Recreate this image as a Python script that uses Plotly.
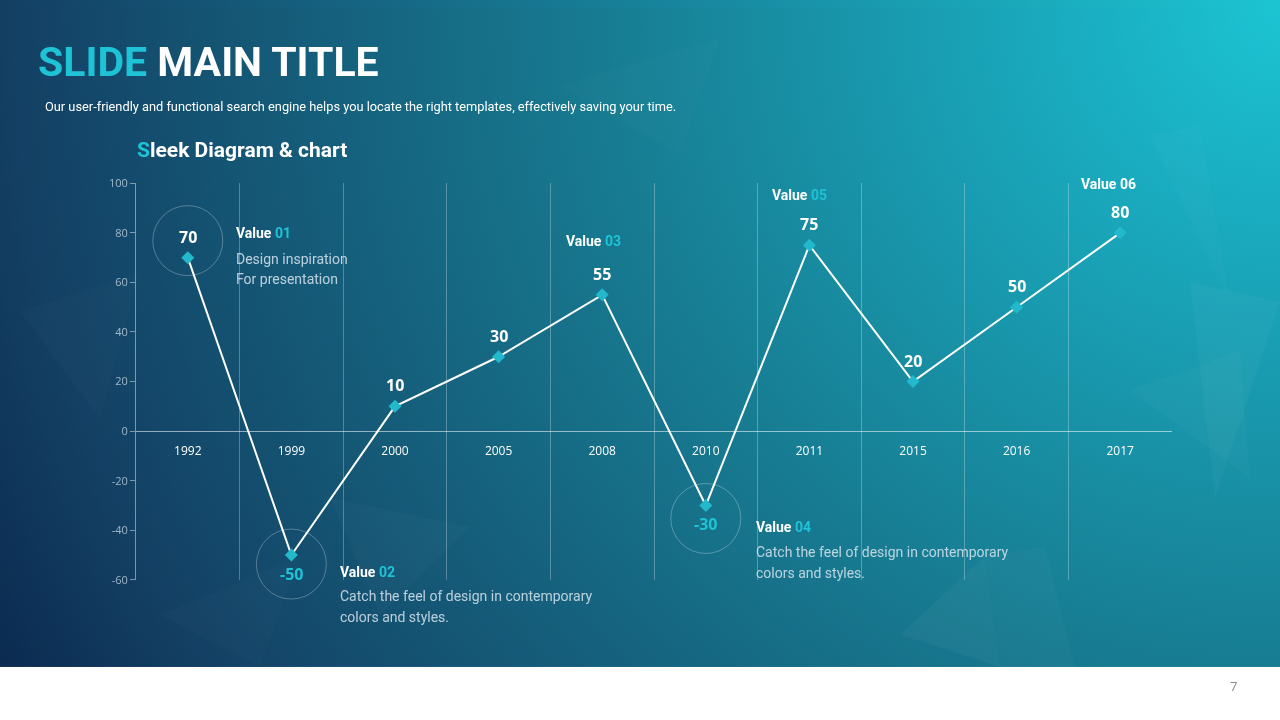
import base64
import plotly.graph_objects as go

YEARS = ['1992', '1999', '2000', '2005', '2008', '2010', '2011', '2015', '2016', '2017']
VALUES = [70, -50, 10, 30, 55, -30, 75, 20, 50, 80]
Y_TICKS = [100, 80, 60, 40, 20, 0, -20, -40, -60]

W, H = 1280, 720
CYAN = '#1fc3d6'
HEAD = 'Roboto, Lato, sans-serif'
X_DOM = [136 / W, 1172 / W]
Y_DOM = [1 - 584 / H, 1 - 179 / H]
X_RANGE = [-0.5, 9.5]
Y_RANGE = [-60, 100]


def px(x, y):
    # pixel position on the slide -> paper coords
    return x / W, 1 - y / H


def to_paper(i, v):
    xp = X_DOM[0] + (i - X_RANGE[0]) / (X_RANGE[1] - X_RANGE[0]) * (X_DOM[1] - X_DOM[0])
    yp = Y_DOM[0] + (v - Y_RANGE[0]) / (Y_RANGE[1] - Y_RANGE[0]) * (Y_DOM[1] - Y_DOM[0])
    return xp, yp


# slide background: radial glow from the top-right corner, faint facets, white footer
svg = f'''<svg xmlns="http://www.w3.org/2000/svg" width="{W}" height="{H}" viewBox="0 0 {W} {H}" preserveAspectRatio="none">
<defs><radialGradient id="g" gradientUnits="userSpaceOnUse" cx="{W}" cy="0" r="1450">
<stop offset="0" stop-color="#1cc4d2"/><stop offset="0.12" stop-color="#1ab0c4"/>
<stop offset="0.48" stop-color="#177a90"/><stop offset="0.88" stop-color="#133f63"/>
<stop offset="1" stop-color="#0b2a50"/></radialGradient></defs>
<rect x="0" y="0" width="{W}" height="673" fill="url(#g)"/>
<g fill="#ffffff">
<polygon points="1190,280 1280,300 1215,500" fill-opacity="0.03"/>
<polygon points="1130,390 1240,350 1250,480" fill-opacity="0.025"/>
<polygon points="1150,130 1200,120 1230,300" fill-opacity="0.02"/>
<polygon points="900,640 985,560 1000,673" fill-opacity="0.035"/>
<polygon points="985,560 1045,550 1075,673 1000,673" fill-opacity="0.025"/>
<polygon points="20,310 140,270 100,420" fill-opacity="0.015"/>
<polygon points="560,80 720,30 680,150" fill-opacity="0.015"/>
<polygon points="330,500 470,530 380,620" fill-opacity="0.02"/>
<polygon points="160,620 300,560 260,673" fill-opacity="0.015"/>
</g>
<rect x="0" y="673" width="{W}" height="47" fill="#ffffff"/>
</svg>'''
bg = 'data:image/svg+xml;base64,' + base64.b64encode(svg.encode()).decode()

x_idx = list(range(len(YEARS)))

fig = go.Figure()
fig.add_trace(go.Scatter(
    x=x_idx, y=VALUES,
    mode='lines+markers',
    line=dict(color='#ffffff', width=2),
    marker=dict(symbol='diamond', size=10, color='#22b9cc'),
    hoverinfo='skip',
    showlegend=False,
))

fig.update_layout(
    width=W, height=H,
    margin=dict(l=0, r=0, t=0, b=0),
    paper_bgcolor='rgba(0,0,0,0)',
    plot_bgcolor='rgba(0,0,0,0)',
    images=[dict(source=bg, xref='paper', yref='paper', x=0, y=1, sizex=1, sizey=1,
                 sizing='stretch', xanchor='left', yanchor='top', layer='below')],
    xaxis=dict(
        domain=X_DOM,
        range=[X_RANGE[0], X_RANGE[1] - 0.0001],
        anchor='free', position=to_paper(0, 0)[1],
        tickmode='array', tickvals=x_idx, ticktext=YEARS,
        tickfont=dict(family='Open Sans, sans-serif', size=12, color='#ffffff'),
        ticks='', ticklabelstandoff=8,
        showgrid=False, zeroline=False,
        showline=True, linecolor='rgba(255,255,255,0.55)', linewidth=1,
        minor=dict(tick0=0.5, dtick=1, showgrid=True, gridcolor='rgba(255,255,255,0.28)',
                   gridwidth=1, ticks=''),
    ),
    yaxis=dict(
        domain=Y_DOM,
        range=Y_RANGE,
        tickmode='array', tickvals=Y_TICKS, ticktext=[str(t) for t in Y_TICKS],
        tickfont=dict(family='Open Sans, sans-serif', size=11, color='rgba(205,220,232,0.75)'),
        ticks='outside', ticklen=5, tickcolor='rgba(255,255,255,0.45)',
        showgrid=False, zeroline=False,
        showline=True, linecolor='rgba(255,255,255,0.45)', linewidth=1,
    ),
)

# thin rings around the highlighted points (pixel sized, anchored on the point)
for i, dy in [(0, 17), (1, -9), (5, -13)]:
    cx, cy = to_paper(i, VALUES[i])
    fig.add_shape(type='circle', xref='paper', yref='paper', xsizemode='pixel', ysizemode='pixel',
                  xanchor=cx, yanchor=cy, x0=-35, x1=35, y0=dy - 35, y1=dy + 35,
                  line=dict(color='rgba(255,255,255,0.28)', width=1))

ann = []

# value labels above (positive) or below (negative) each point
for i, v in zip(x_idx, VALUES):
    ann.append(dict(x=i, y=v, xref='x', yref='y', text=str(v), showarrow=False,
                    yshift=21 if v >= 0 else -19,
                    font=dict(family='Open Sans, sans-serif', size=16, weight='bold',
                              color='#ffffff' if v >= 0 else CYAN)))


def text(x, y, s, size, color='#ffffff', family=HEAD, align='left', weight='normal'):
    xp, yp = px(x, y)
    ann.append(dict(x=xp, y=yp, xref='paper', yref='paper', text=s, showarrow=False,
                    xanchor=align, yanchor='middle', align=align,
                    font=dict(family=family, size=size, color=color, weight=weight)))


text(36, 55, f"<span style='color:{CYAN}'>SLIDE</span> MAIN TITLE", 41, weight='bold')
text(43, 101, 'Our user-friendly and functional search engine helps you locate the right templates, '
     'effectively saving your time.', 12.8)
text(135, 145, f"<span style='color:{CYAN}'>S</span>leek Diagram &amp; chart", 21, weight='bold')

DESC = 'rgba(215,228,238,0.85)'
lbl = lambda n: f"Value <span style='color:{CYAN}'>{n}</span>"
text(234, 230, lbl('01'), 14, weight='bold')
text(234, 256, 'Design inspiration', 14, color=DESC)
text(234, 277, 'For presentation', 14, color=DESC)
text(338, 576, lbl('02'), 14, weight='bold')
text(338, 601, 'Catch the feel of design in contemporary', 14, color=DESC)
text(338, 622, 'colors and styles.', 14, color=DESC)
text(593, 238, lbl('03'), 14, align='center', weight='bold')
text(754, 530, lbl('04'), 14, weight='bold')
text(754, 556, 'Catch the feel of design in contemporary', 14, color=DESC)
text(754, 577, 'colors and styles.', 14, color=DESC)
text(799, 191, lbl('05'), 14, align='center', weight='bold')
text(1108, 180, 'Value 06', 14, align='center', weight='bold')
text(1233, 692, '7', 13, color='#8a8a8a', family='Open Sans, sans-serif', align='center')

fig.update_layout(annotations=ann)

# page exactly the size of the slide, figure pinned to the top-left corner;
# page background matches the slide (dark top, white footer) in case any edge shows
pin = ("var s='margin:0;padding:0;overflow:hidden;width:1280px;height:720px;"
       "background:linear-gradient(90deg,#133f63,#1cc4d2) top/100% 50% no-repeat,#ffffff;';"
       "document.documentElement.style.cssText=s;document.body.style.cssText=s;"
       "var d=document.getElementsByClassName('plotly-graph-div')[0];"
       "d.style.position='fixed';d.style.top='0';d.style.left='0';")
fig.write_html('out.html', config={'displayModeBar': False}, post_script=pin)
